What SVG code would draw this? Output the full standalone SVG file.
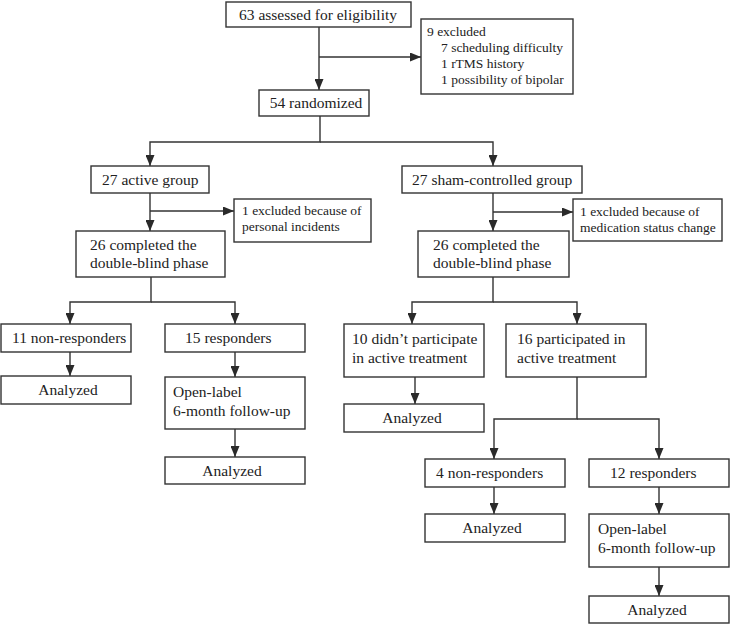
<svg xmlns="http://www.w3.org/2000/svg" width="730" height="624" viewBox="0 0 730 624">
<defs>
<marker id="ah" markerUnits="userSpaceOnUse" markerWidth="11" markerHeight="9" refX="11" refY="4.5" orient="auto">
<path d="M0,0 L11,4.5 L0,9 z" fill="#2a2a2a"/>
</marker>
<style>
rect{fill:#fff;stroke:#333;stroke-width:1.4}
text{font-size:15.5px;fill:#222}
.c{text-anchor:middle}
.s{font-size:13.5px}
#connectors path{fill:none;stroke:#333;stroke-width:1.4}
.a{marker-end:url(#ah)}
</style>
</defs>
<rect x="0" y="0" width="730" height="624" style="fill:#fff;stroke:none"/>
<g id="connectors">
<path d="M319,27 V90" class="a"/>
<path d="M319,57 H421" class="a"/>
<path d="M320,116 V142 H150 V166" class="a"/>
<path d="M320,142 H493 V166" class="a"/>
<path d="M150,193 V231" class="a"/>
<path d="M150,211 H234" class="a"/>
<path d="M151,277 V302 H70 V324" class="a"/>
<path d="M151,302 H235 V324" class="a"/>
<path d="M70,352 V376" class="a"/>
<path d="M235,352 V377" class="a"/>
<path d="M235,429 V457" class="a"/>
<path d="M493,193 V231" class="a"/>
<path d="M493,212 H573" class="a"/>
<path d="M493,277 V302 H412 V324" class="a"/>
<path d="M493,302 H577 V324" class="a"/>
<path d="M415,377 V404" class="a"/>
<path d="M577,377 V419 H494 V459" class="a"/>
<path d="M577,419 H659 V459" class="a"/>
<path d="M494,487 V514" class="a"/>
<path d="M659,487 V514" class="a"/>
<path d="M659,567 V596" class="a"/>
</g>
<g font-family="'Liberation Serif', Tinos, 'Times New Roman', 'DejaVu Serif', serif">
<g id="n63"><rect x="226" y="2" width="185" height="25"/><text x="318" y="20" class="c">63 assessed for eligibility</text></g>
<g id="excl9"><rect x="421" y="19" width="152" height="75"/>
<text x="427" y="36" class="s">9 excluded</text>
<text x="441" y="52" class="s">7 scheduling difficulty</text>
<text x="441" y="68" class="s">1 rTMS history</text>
<text x="441" y="84" class="s">1 possibility of bipolar</text></g>
<g id="n54"><rect x="259" y="90" width="110" height="26"/><text x="316" y="108" class="c">54 randomized</text></g>
<g id="n27a"><rect x="91" y="166" width="118" height="27"/><text x="102" y="185">27 active group</text></g>
<g id="n27s"><rect x="402" y="166" width="180" height="27"/><text x="412" y="185">27 sham-controlled group</text></g>
<g id="exclA"><rect x="234" y="199" width="137" height="43"/>
<text x="242" y="215" class="s">1 excluded because of</text>
<text x="242" y="231" class="s">personal incidents</text></g>
<g id="exclS"><rect x="573" y="199" width="149" height="42"/>
<text x="580" y="216" class="s">1 excluded because of</text>
<text x="580" y="232" class="s">medication status change</text></g>
<g id="n26a"><rect x="76" y="231" width="149" height="46"/>
<text x="90" y="250">26 completed the</text>
<text x="90" y="268">double-blind phase</text></g>
<g id="n26s"><rect x="418" y="231" width="151" height="46"/>
<text x="433" y="250">26 completed the</text>
<text x="433" y="268">double-blind phase</text></g>
<g id="n11"><rect x="1" y="324" width="130" height="28"/><text x="12" y="343">11 non-responders</text></g>
<g id="n15"><rect x="165" y="324" width="140" height="28"/><text x="185" y="343">15 responders</text></g>
<g id="an1"><rect x="1" y="376" width="130" height="28"/><text x="68" y="395" class="c">Analyzed</text></g>
<g id="ol1"><rect x="165" y="377" width="140" height="52"/>
<text x="173" y="397">Open-label</text>
<text x="173" y="416">6-month follow-up</text></g>
<g id="an2"><rect x="165" y="457" width="140" height="27"/><text x="232" y="476" class="c">Analyzed</text></g>
<g id="n10"><rect x="344" y="324" width="140" height="53"/>
<text x="352" y="344">10 didn’t participate</text>
<text x="352" y="363">in active treatment</text></g>
<g id="n16"><rect x="506" y="324" width="140" height="53"/>
<text x="517" y="344">16 participated in</text>
<text x="517" y="363">active treatment</text></g>
<g id="an3"><rect x="344" y="404" width="140" height="28"/><text x="412" y="423" class="c">Analyzed</text></g>
<g id="n4"><rect x="425" y="459" width="140" height="28"/><text x="436" y="478">4 non-responders</text></g>
<g id="n12"><rect x="589" y="459" width="140" height="28"/><text x="610" y="478">12 responders</text></g>
<g id="an4"><rect x="425" y="514" width="140" height="28"/><text x="492" y="533" class="c">Analyzed</text></g>
<g id="ol2"><rect x="589" y="514" width="140" height="53"/>
<text x="598" y="534">Open-label</text>
<text x="598" y="553">6-month follow-up</text></g>
<g id="an5"><rect x="589" y="596" width="140" height="27"/><text x="657" y="615" class="c">Analyzed</text></g>
</g>
</svg>
